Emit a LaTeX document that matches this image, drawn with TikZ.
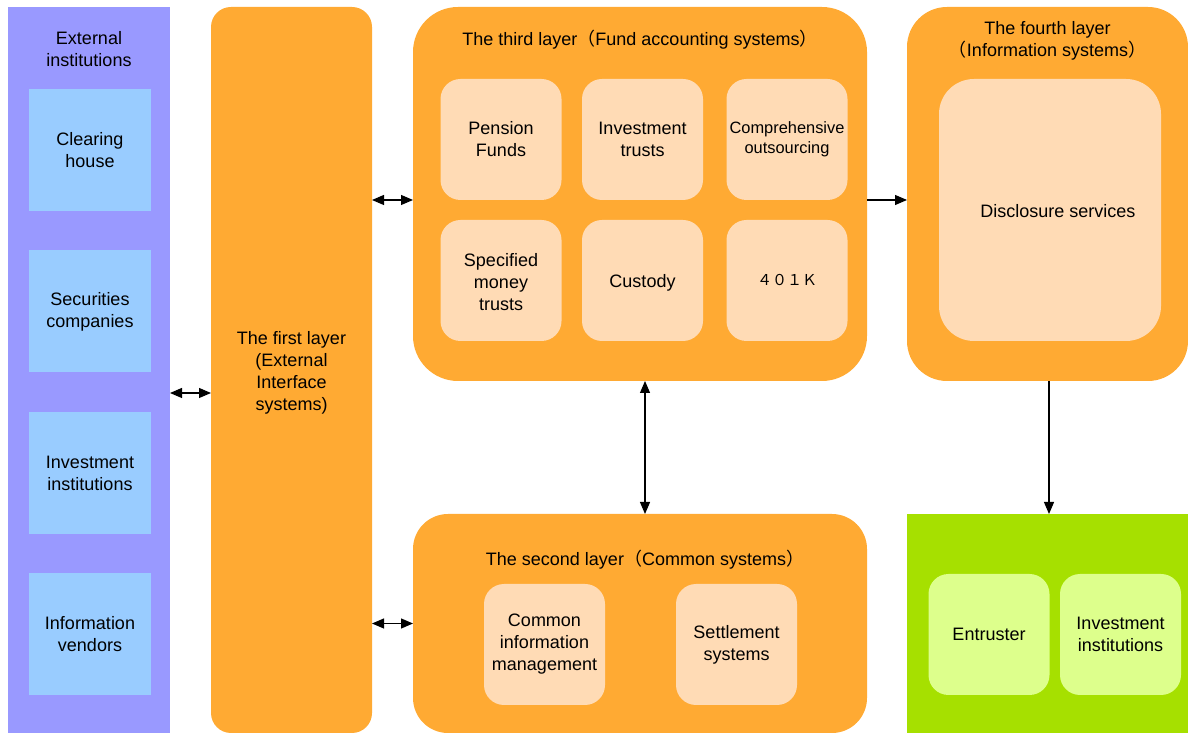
\documentclass[tikz,border=0pt]{standalone}
\usepackage{fontspec}
\setmainfont{Liberation Sans}
\newfontfamily\cjk{Noto Sans CJK SC}
\usetikzlibrary{arrows.meta}
\definecolor{extbg}{HTML}{9999FF}
\definecolor{extbox}{HTML}{99CCFF}
\definecolor{layer}{HTML}{FFAA33}
\definecolor{peach}{HTML}{FFDBB5}
\definecolor{grn}{HTML}{A6E000}
\definecolor{lgrn}{HTML}{DDFF8C}
\begin{document}
\begin{tikzpicture}[x=1pt,y=1pt,
  every node/.style={inner sep=0pt,outer sep=0pt,align=center,font=\fontsize{18}{22}\selectfont},
  panel/.style={fill=#1,draw=none},
  extitem/.style={fill=extbox,minimum width=122pt,minimum height=122pt},
  layerbox/.style={fill=layer,rounded corners=#1},
  peachbox/.style={fill=peach,rounded corners=20pt,minimum width=121pt,minimum height=121pt},
  greenitem/.style={fill=lgrn,rounded corners=20pt,minimum width=121pt,minimum height=121pt},
  conn/.style={line width=1.1pt,{Triangle[length=12pt,width=10pt]}-{Triangle[length=12pt,width=10pt]}},
  oneway/.style={line width=1.1pt,-{Triangle[length=12pt,width=10pt]}},
  lbl/.style={}]
\useasboundingbox (0,0) rectangle (1188,733);
% External institutions
\node[panel=extbg,minimum width=162pt,minimum height=726pt] (ext) at (89,363) {};
\node[lbl] (extt) at (89,684) {External\\institutions};
\node[extitem] (ch) at (90,583) {Clearing\\house};
\node[extitem] (sc) at (90,421.5) {Securities\\companies};
\node[extitem] (ii) at (90,260) {Investment\\institutions};
\node[extitem] (iv) at (90,98.5) {Information\\vendors};
% First layer
\node[layerbox=20pt,minimum width=161pt,minimum height=726pt] (first) at (291.5,363) {};
\node[lbl] (firstt) at (291.5,360) {The first layer\\(External\\Interface\\systems)};
% Third layer
\node[layerbox=45pt,minimum width=454pt,minimum height=374pt] (third) at (640,539) {};
\node[lbl] (thirdt) at (640,693) {The third layer{\cjk （}Fund accounting systems{\cjk ）}};
\node[peachbox] (pf) at (501,593.5) {Pension\\Funds};
\node[peachbox] (it) at (642.5,593.5) {Investment\\trusts};
\node[peachbox,font=\fontsize{16.4}{20}\selectfont] (co) at (787,593.5) {Comprehensive\\outsourcing};
\node[peachbox] (sm) at (501,452.5) {};
\node[lbl] at (501,450.5) {Specified\\money\\trusts};
\node[peachbox] (cu) at (642.5,452.5) {};
\node[lbl] at (642.5,450) {Custody};
\node[peachbox,font=\fontsize{15}{18}\selectfont] (k4) at (787,452.5) {\cjk ４０１Ｋ};
% Fourth layer
\node[layerbox=40pt,minimum width=281pt,minimum height=374pt] (fourth) at (1047.5,539) {};
\node[lbl] (fourtht) at (1047.5,692) {The fourth layer\\{\cjk （}Information systems{\cjk ）}};
\node[fill=peach,rounded corners=35pt,minimum width=222pt,minimum height=262pt] (disc) at (1050,523) {};
\node[lbl] (disct) at (1058,522) {Disclosure services};
% Second layer
\node[layerbox=35pt,minimum width=454pt,minimum height=219pt] (second) at (640,109.5) {};
\node[lbl] (secondt) at (645,173) {The second layer{\cjk （}Common systems{\cjk ）}};
\node[peachbox] (cim) at (544.5,88.5) {Common\\information\\management};
\node[peachbox] (ss) at (736.5,88.5) {Settlement\\systems};
% Green panel
\node[panel=grn,minimum width=281pt,minimum height=219pt] (green) at (1047.5,109.5) {};
\node[greenitem] (en) at (989,98.5) {Entruster};
\node[greenitem] (ii2) at (1120.5,98.5) {Investment\\institutions};
% Connectors
\draw[conn] ([yshift=-23pt]ext.east) -- ([yshift=-23pt]first.west);
\draw[conn] (first.east |- 0,533) -- (third.west |- 0,533);
\draw[conn] (first.east |- second.west) -- (second.west);
\draw[oneway] (third.east |- 0,533) -- (fourth.west |- 0,533);
\draw[conn] (third.south -| 645,0) -- (second.north -| 645,0);
\draw[oneway] (fourth.south -| 1049,0) -- (green.north -| 1049,0);
\end{tikzpicture}
\end{document}
